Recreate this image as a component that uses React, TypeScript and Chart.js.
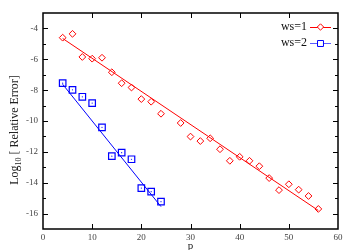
import React, { useEffect, useRef } from "react";
import { Chart, registerables } from "chart.js";

Chart.register(...registerables);

const ws1X = [4, 6, 8, 10, 12, 14, 16, 18, 20, 22, 24, 28, 30, 32, 34, 36, 38, 40, 42, 44, 46, 48, 50, 52, 54, 56];
const ws1Y = [-4.6, -4.35, -5.85, -5.96, -5.9, -6.84, -7.55, -7.83, -8.58, -8.75, -9.53, -10.13, -11.01, -11.3, -11.12, -11.83, -12.58, -12.32, -12.58, -12.93, -13.7, -14.48, -14.1, -14.45, -14.86, -15.7];
const ws2X = [4, 6, 8, 10, 12, 14, 16, 18, 20, 22, 24];
const ws2Y = [-7.55, -7.98, -8.43, -8.84, -10.41, -12.28, -12.05, -12.48, -14.35, -14.58, -15.23];
const fit1X = [4, 56];
const fit1Y = [-4.65, -15.8];
const fit2X = [4, 24];
const fit2Y = [-7.62, -15.55];
const seriesLabels = ["ws=1", "ws=2"];
const xTicks = [0, 10, 20, 30, 40, 50, 60];
const yTicks = [-4, -6, -8, -10, -12, -14, -16];
const yMinorTicks = [-5, -7, -9, -11, -13, -15];

const RED = "#ff0000";
const BLUE = "#0000ff";
const SERIF = "'Liberation Serif', 'Times New Roman', serif";

const pts = (xs: number[], ys: number[]) => xs.map((x, i) => ({ x, y: ys[i] }));

const framePlugin = {
  id: "frame",
  afterDraw(chart: any) {
    const { ctx, chartArea: a, scales } = chart;
    const xs = scales.x;
    const ys = scales.y;
    ctx.save();
    ctx.strokeStyle = "#000";
    ctx.lineWidth = 1.5;
    ctx.strokeRect(a.left, a.top, a.right - a.left, a.bottom - a.top);
    ctx.lineWidth = 1;
    ctx.beginPath();
    xTicks.forEach((t) => {
      if (t === xs.min || t === xs.max) return;
      const px = Math.round(xs.getPixelForValue(t)) + 0.5;
      ctx.moveTo(px, a.bottom);
      ctx.lineTo(px, a.bottom - 5);
      ctx.moveTo(px, a.top);
      ctx.lineTo(px, a.top + 5);
    });
    yTicks.forEach((t) => {
      const py = Math.round(ys.getPixelForValue(t)) + 0.5;
      ctx.moveTo(a.left, py);
      ctx.lineTo(a.left + 5, py);
      ctx.moveTo(a.right, py);
      ctx.lineTo(a.right - 5, py);
    });
    yMinorTicks.forEach((t) => {
      const py = Math.round(ys.getPixelForValue(t)) + 0.5;
      ctx.moveTo(a.left, py);
      ctx.lineTo(a.left + 3, py);
      ctx.moveTo(a.right, py);
      ctx.lineTo(a.right - 3, py);
    });
    ctx.stroke();

    // axis titles
    ctx.fillStyle = "#222";
    ctx.font = `11px ${SERIF}`;
    ctx.textAlign = "center";
    ctx.textBaseline = "middle";
    ctx.fillText("p", (a.left + a.right) / 2, 246);

    ctx.save();
    ctx.translate(15, 130);
    ctx.rotate(-Math.PI / 2);
    const part1 = "Log";
    const part2 = "10";
    const part3 = " [ Relative Error]";
    ctx.font = `12px ${SERIF}`;
    const w1 = ctx.measureText(part1).width;
    const w3 = ctx.measureText(part3).width;
    ctx.font = `8px ${SERIF}`;
    const w2 = ctx.measureText(part2).width;
    const total = w1 + w2 + w3;
    let x0 = -total / 2;
    ctx.textAlign = "left";
    ctx.font = `12px ${SERIF}`;
    ctx.fillText(part1, x0, 0);
    x0 += w1;
    ctx.font = `8px ${SERIF}`;
    ctx.fillText(part2, x0, 4);
    x0 += w2;
    ctx.font = `12px ${SERIF}`;
    ctx.fillText(part3, x0, 0);
    ctx.restore();

    // legend
    const entries = [
      { label: seriesLabels[0], color: RED, lineColor: RED, style: "rectRot", r: 3.2 },
      { label: seriesLabels[1], color: BLUE, lineColor: "#5a5aff", style: "rect", r: 4.2 },
    ];
    entries.forEach((e, i) => {
      const y = 27 + i * 16;
      ctx.font = `12px ${SERIF}`;
      ctx.textAlign = "right";
      ctx.textBaseline = "middle";
      ctx.fillStyle = "#111";
      ctx.fillText(e.label, 307, y);
      ctx.strokeStyle = e.lineColor;
      ctx.lineWidth = 1;
      ctx.beginPath();
      ctx.moveTo(310, y + 0.5);
      ctx.lineTo(331, y + 0.5);
      ctx.stroke();
      ctx.fillStyle = "#fff";
      ctx.strokeStyle = e.color;
      ctx.lineWidth = 1;
      (Chart as any).helpers?.drawPoint
        ? null
        : null;
      ctx.beginPath();
      if (e.style === "rectRot") {
        ctx.moveTo(320.5, y - e.r);
        ctx.lineTo(320.5 + e.r, y);
        ctx.lineTo(320.5, y + e.r);
        ctx.lineTo(320.5 - e.r, y);
        ctx.closePath();
      } else {
        const s = e.r * Math.SQRT1_2;
        ctx.rect(320.5 - s, y + 0.5 - s, 2 * s, 2 * s);
      }
      ctx.fill();
      ctx.stroke();
    });
    ctx.restore();
  },
};

export default function App() {
  const ref = useRef<HTMLCanvasElement | null>(null);
  useEffect(() => {
    if (!ref.current) return;
    const chart = new Chart(ref.current, {
      type: "scatter",
      data: {
        datasets: [
          {
            label: "fit1",
            type: "line",
            data: pts(fit1X, fit1Y),
            borderColor: RED,
            borderWidth: 1,
            pointRadius: 0,
            showLine: true,
          },
          {
            label: "fit2",
            type: "line",
            data: pts(fit2X, fit2Y),
            borderColor: BLUE,
            borderWidth: 1,
            pointRadius: 0,
            showLine: true,
          },
          {
            label: seriesLabels[0],
            data: pts(ws1X, ws1Y),
            pointStyle: "rectRot",
            pointRadius: 3.4,
            borderColor: RED,
            borderWidth: 1,
            backgroundColor: "rgba(255,255,255,0)",
          },
          {
            label: seriesLabels[1],
            data: pts(ws2X, ws2Y),
            pointStyle: "rect",
            pointRadius: 4.6,
            borderColor: BLUE,
            borderWidth: 1.2,
            backgroundColor: "rgba(255,255,255,0)",
          },
          {
            label: "ws2dot",
            data: pts(ws2X, ws2Y),
            pointStyle: "circle",
            pointRadius: 0.6,
            borderColor: BLUE,
            borderWidth: 0,
            backgroundColor: BLUE,
          },
        ],
      },
      options: {
        animation: false,
        responsive: false,
        maintainAspectRatio: false,
        layout: { padding: { top: 13, right: 23, left: 0, bottom: 0 } },
        plugins: {
          legend: { display: false },
          tooltip: { enabled: false },
        },
        scales: {
          x: {
            type: "linear",
            min: 0,
            max: 60,
            afterBuildTicks: (s: any) => {
              s.ticks = xTicks.map((v) => ({ value: v }));
            },
            afterFit: (s: any) => {
              s.height = 21;
            },
            grid: { display: false, drawTicks: false },
            border: { display: false },
            ticks: {
              padding: 3,
              color: "#444",
              font: { family: SERIF, size: 9 },
              maxRotation: 0,
            },
          },
          y: {
            type: "linear",
            min: -17,
            max: -3,
            afterBuildTicks: (s: any) => {
              s.ticks = yTicks.map((v) => ({ value: v }));
            },
            afterFit: (s: any) => {
              s.width = 43;
            },
            grid: { display: false, drawTicks: false },
            border: { display: false },
            ticks: {
              padding: 5,
              color: "#444",
              font: { family: SERIF, size: 9 },
            },
          },
        },
      },
      plugins: [framePlugin],
    } as any);
    return () => chart.destroy();
  }, []);
  return (
    <div style={{ position: "fixed", left: 0, top: 0, width: 361, height: 250, background: "#fff" }}>
      <canvas ref={ref} width={361} height={250} style={{ width: 361, height: 250 }} />
    </div>
  );
}
